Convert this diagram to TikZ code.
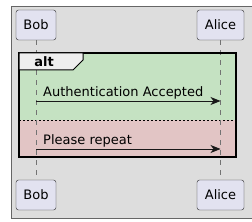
\documentclass[tikz,border=0pt]{standalone}
\usepackage{fontspec}
\setmainfont{DejaVu Sans}
\usetikzlibrary{arrows.meta}

\definecolor{diagbg}{RGB}{221,221,221}
\definecolor{partfill}{RGB}{226,226,240}
\definecolor{altgreen}{RGB}{197,226,194}
\definecolor{altred}{RGB}{226,197,197}
\definecolor{tabfill}{RGB}{238,238,238}

\tikzset{
	participant/.style={draw=black!85, fill=partfill, rounded corners=2.5pt,
		minimum height=30pt, inner sep=0pt, font=\fontsize{13}{15}\selectfont},
	lifeline/.style={draw=black!55, dash pattern=on 5pt off 5pt, line width=0.6pt},
	msg/.style={draw=black!90, line width=0.9pt, -{Stealth[length=10pt, width=8pt, inset=3pt]}},
	msglabel/.style={anchor=base west, inner sep=0pt, font=\fontsize{13}{15}\selectfont},
}

\begin{document}
\begin{tikzpicture}[x=1pt, y=-1pt]
		\useasboundingbox (0,0) rectangle (252,222);
		
		% Background
		\draw[fill=diagbg, draw=black!60, line width=0.8pt] (11,6) rectangle (256,218);
		
		% Participants
		\node[participant, minimum width=40pt] (bobtop) at (36,25) {Bob};
		\node[participant, minimum width=47pt] (alicetop) at (220.5,25) {Alice};
		\node[participant, minimum width=40pt] (bobbot) at (36,195) {Bob};
		\node[participant, minimum width=47pt] (alicebot) at (220.5,195) {Alice};
		
		% Alt fragment
		\fill[altgreen] (19,53) rectangle (236,120);
		\fill[altred] (19,120) rectangle (236,157);
		\draw[black, dash pattern=on 2pt off 2pt, line width=0.6pt] (19,120) -- (236,120);
		
		% Lifelines
		\draw[lifeline] (bobtop.south) -- (bobbot.north);
		\draw[lifeline] (alicetop.south) -- (alicebot.north);
		
		% Frame and tab
		\draw[black, line width=1.5pt] (19,53) rectangle (236,157);
		\draw[fill=tabfill, draw=black, line width=1pt] (19,53) -- (83,53) -- (83,60) -- (73,70) -- (19,70) -- cycle;
		\node[font=\fontsize{13}{15}\selectfont\bfseries] (alttab) at (44,61.5) {alt};
		
		% Messages
		\coordinate (bobmsg1) at (bobtop.south |- 0,101);
		\coordinate (alicemsg1) at (alicetop.south |- 0,101);
		\coordinate (bobmsg2) at (bobtop.south |- 0,149);
		\coordinate (alicemsg2) at (alicetop.south |- 0,149);
		\draw[msg] (bobmsg1) -- (alicemsg1);
		\draw[msg] (bobmsg2) -- (alicemsg2);
		\node[msglabel] (acceptlabel) at (43,96) {Authentication Accepted};
		\node[msglabel] (repeatlabel) at (43,144) {Please repeat};
	\end{tikzpicture}
\end{document}
